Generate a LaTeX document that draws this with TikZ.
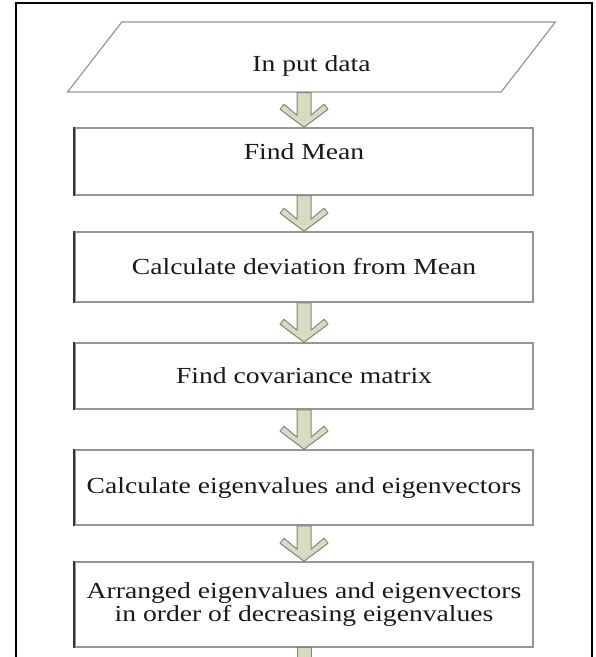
\documentclass[tikz,border=0pt]{standalone}
\usepackage{fontspec}
\setmainfont{Liberation Serif}[FakeStretch=1.2]
\usepackage{tikz}
\usetikzlibrary{shapes.geometric,calc}

% down arrow from one step to the next
\newcommand{\flowarrow}[2]{%
\draw[flowarrow] ($(#1.south -| #2.north)+(-7,0)$) -- ($(#2.north)+(-7,-12)$)
  -- ($(#2.north)+(-20,-23)$) -- ($(#2.north)+(-24,-18)$) -- (#2.north)
  -- ($(#2.north)+(24,-18)$) -- ($(#2.north)+(20,-23)$) -- ($(#2.north)+(7,-12)$)
  -- ($(#1.south -| #2.north)+(7,0)$) -- cycle;}

\begin{document}
\begin{tikzpicture}[x=0.5pt,y=-0.5pt,
  stepbox/.style={draw=boxgray,line width=0.75pt,minimum width=229pt,inner sep=0pt,
    font=\fontsize{11.5}{11.5}\selectfont,text=black!90,align=center},
  inputbox/.style={trapezium,trapezium left angle=66.6,trapezium right angle=113.4,
    trapezium stretches=true,draw=boxgray,line width=0.6pt,minimum width=245.5pt,
    minimum height=35pt,inner sep=0pt,font=\fontsize{11.5}{11.5}\selectfont,text=black!90},
  flowarrow/.style={fill=arrowfill,draw=arrowline,line width=0.5pt,line join=round},
  leftedge/.style={draw=black!80,line width=1pt}]
% Define colors
\definecolor{boxgray}{RGB}{150,150,150}
\definecolor{arrowfill}{RGB}{214,220,192}
\definecolor{arrowline}{RGB}{130,135,120}

\useasboundingbox (0,0) rectangle (595,657);

% Outer frame (open at the bottom)
\draw[line width=1.25pt] (16,657) -- (16,3) -- (592,3) -- (592,657);

% Steps
\node[inputbox,text height=17pt,text depth=2.5pt] (input) at (311.5,57) {In put data};
\node[stepbox,minimum height=33.5pt,text height=8pt,text depth=9.5pt] (mean) at (304,161.5) {Find Mean};
\node[stepbox,minimum height=35pt] (dev) at (304,267) {Calculate deviation from Mean};
\node[stepbox,minimum height=33pt] (cov) at (304,376) {Find covariance matrix};
\node[stepbox,minimum height=37.5pt] (eig) at (304,487.5) {Calculate eigenvalues and eigenvectors};
\node[stepbox,minimum height=42.5pt] (sort) at (304,604.5) {Arranged eigenvalues and eigenvectors\\in order of decreasing eigenvalues};

% Darker left edges
\foreach \n in {mean,dev,cov,eig,sort}
  \draw[leftedge] (\n.north west) -- (\n.south west);

% Arrows
\foreach \a/\b in {input/mean,mean/dev,dev/cov,cov/eig,eig/sort}
  \flowarrow{\a}{\b};

% Arrow leaving the last step
\coordinate (stubend) at (304,660);
\draw[flowarrow] ($(sort.south)+(-7,0)$) rectangle ($(stubend)+(7,0)$);
\end{tikzpicture}
\end{document}
